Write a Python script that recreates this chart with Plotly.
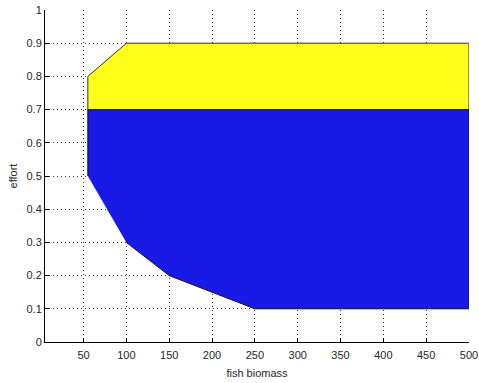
import plotly.graph_objects as go

# Effort regions over fish biomass
upper_x = [55, 55, 100, 500, 500]
upper_y = [0.7, 0.8, 0.9, 0.9, 0.7]

lower_x = [55, 55, 500, 500, 250, 150, 100]
lower_y = [0.5, 0.7, 0.7, 0.1, 0.1, 0.2, 0.3]

x_ticks = [50, 100, 150, 200, 250, 300, 350, 400, 450, 500]
y_ticks = [0, 0.1, 0.2, 0.3, 0.4, 0.5, 0.6, 0.7, 0.8, 0.9, 1]

fig = go.Figure()
fig.add_trace(go.Scatter(
    x=upper_x, y=upper_y, fill="toself", mode="lines",
    fillcolor="#ffff19", line=dict(color="#333333", width=1),
    hoverinfo="skip", showlegend=False,
))
fig.add_trace(go.Scatter(
    x=lower_x, y=lower_y, fill="toself", mode="lines",
    fillcolor="#1a1ae6", line=dict(color="#111111", width=1),
    hoverinfo="skip", showlegend=False,
))

font = dict(family="Liberation Sans, Arial, sans-serif", size=11, color="#262626")
axis_common = dict(
    showgrid=True, gridcolor="#333333", griddash="1px,3px", gridwidth=1,
    showline=True, linecolor="black", linewidth=1,
    ticks="inside", ticklen=4, tickcolor="black",
    zeroline=False, mirror=False, automargin=False,
    tickfont=font, title_font=font,
)

fig.update_xaxes(range=[5, 500], tickvals=x_ticks, title_text="fish biomass",
                 title_standoff=9, ticklabelstandoff=3, **axis_common)
fig.update_yaxes(range=[0, 1], tickvals=y_ticks, title_text="effort",
                 title_standoff=6, **axis_common)

fig.update_layout(
    width=479, height=383,
    margin=dict(l=45, r=10, t=10, b=41),
    paper_bgcolor="white", plot_bgcolor="white",
)

fig.write_html("out.html")
